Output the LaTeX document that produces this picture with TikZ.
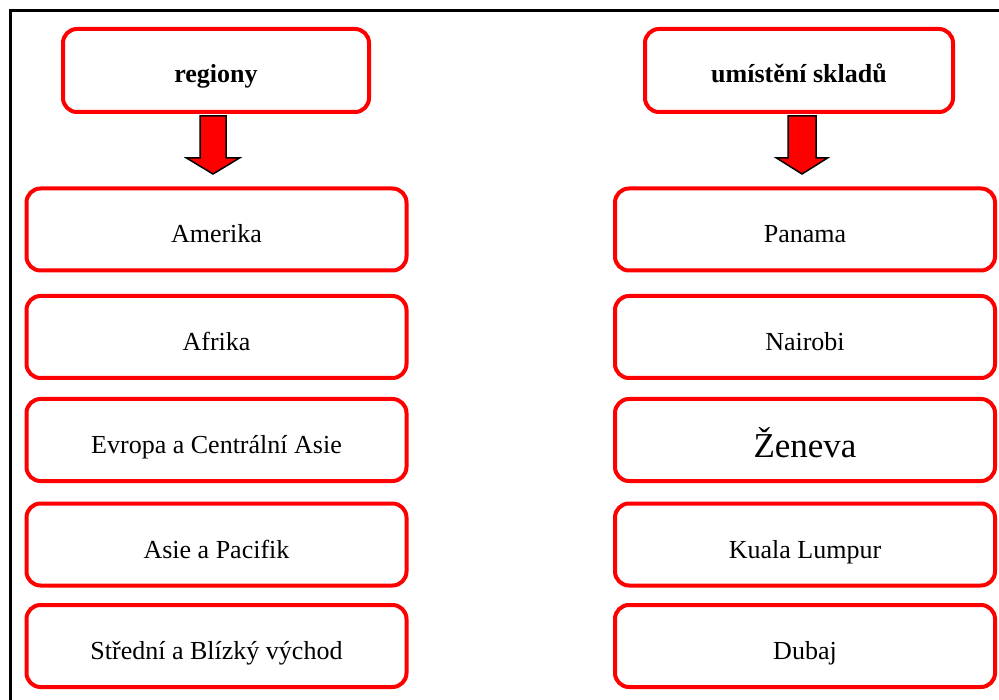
\documentclass[tikz,border=0pt]{standalone}
\usepackage{fontspec}
\setmainfont{Liberation Serif}
\usetikzlibrary{calc}
\tikzset{
  box/.style={draw=red, line width=4pt, rounded corners=14pt, fill=white,
    minimum width=380pt, minimum height=82pt, inner sep=0pt,
    text height=27pt, text depth=0pt,
    font=\fontsize{26}{30}\selectfont},
  headbox/.style={box, minimum height=83pt, text height=24pt, font=\fontsize{26}{30}\selectfont\bfseries},
  blockarrow/.style={draw=black, fill=red, line width=1.5pt, line join=miter},
  frame/.style={draw=black, line width=3pt}
}
\begin{document}
\begin{tikzpicture}[x=1pt,y=-1pt]
\useasboundingbox (0,0) rectangle (999,700);
\coordinate (fb) at (10,701);
\coordinate (ft) at (10,11);
\coordinate (fr) at (1000,11);
\draw[frame] (fb) -- (ft) -- (fr);

\node[headbox, minimum width=306pt] (h1) at (216,70.5) {regiony};
\node[headbox, minimum width=308pt] (h2) at (799,70.5) {umístění skladů};

\node[box] (l1) at (216.5,229.5) {Amerika};
\node[box] (l2) at (216.5,337) {Afrika};
\node[box] (l3) at (216.5,440) {Evropa a Centrální Asie};
\node[box] (l4) at (216.5,544.5) {Asie a Pacifik};
\node[box] (l5) at (216.5,646) {Střední a Blízký východ};

\node[box] (r1) at (805,229.5) {Panama};
\node[box] (r2) at (805,337) {Nairobi};
\node[box, text height=34pt, font=\fontsize{35}{40}\selectfont] (r3) at (805,440) {Ženeva};
\node[box] (r4) at (805,544.5) {Kuala Lumpur};
\node[box] (r5) at (805,646) {Dubaj};

% block arrows
\coordinate (a1) at ($(h1.south)+(-3,0)$);
\draw[blockarrow] ($(a1)+(-13,2)$) -- ($(a1)+(13,2)$) -- ($(a1)+(13,44)$) -- ($(a1)+(26.5,44)$)
  -- ($(a1)+(0,60)$) -- ($(a1)+(-26.5,44)$) -- ($(a1)+(-13,44)$) -- cycle;
\coordinate (a2) at ($(h2.south)+(3,0)$);
\draw[blockarrow] ($(a2)+(-14,2)$) -- ($(a2)+(14,2)$) -- ($(a2)+(14,44)$) -- ($(a2)+(25.5,44)$)
  -- ($(a2)+(0,60)$) -- ($(a2)+(-25.5,44)$) -- ($(a2)+(-14,44)$) -- cycle;
\end{tikzpicture}
\end{document}
